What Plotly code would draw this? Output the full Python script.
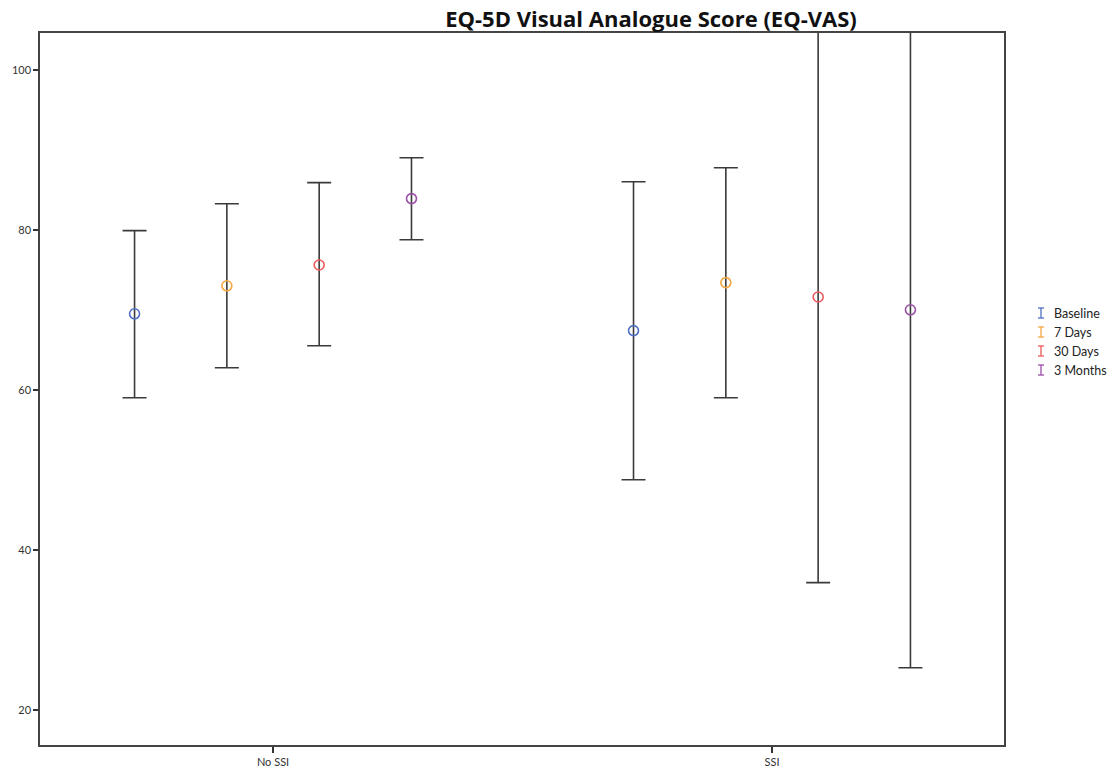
import plotly.graph_objects as go

groups = ["No SSI", "SSI"]
series = ["Baseline", "7 Days", "30 Days", "3 Months"]
colors = ["#4f6fc4", "#f5a742", "#f0575a", "#9a4ea6"]

mean_baseline = [69.5, 67.4]
mean_7days = [73.0, 73.4]
mean_30days = [75.6, 71.6]
mean_3months = [83.9, 70.0]

upper_baseline = [79.9, 86.0]
upper_7days = [83.25, 87.75]
upper_30days = [85.9, 107.3]
upper_3months = [89.0, 114.7]

lower_baseline = [59.0, 48.75]
lower_7days = [62.75, 59.0]
lower_30days = [65.5, 35.9]
lower_3months = [78.75, 25.25]

means = [mean_baseline, mean_7days, mean_30days, mean_3months]
uppers = [upper_baseline, upper_7days, upper_30days, upper_3months]
lowers = [lower_baseline, lower_7days, lower_30days, lower_3months]

offsets = [-0.2775, -0.0925, 0.0925, 0.2775]

W, H = 1119, 774
OFF = 8  # page body margin
L, R, T, B = 40 - OFF, 1004 - OFF, 33 - OFF, 745 - OFF

fig = go.Figure()
for i, s in enumerate(series):
    xs = [g + offsets[i] for g in range(len(groups))]
    m = means[i]
    up = [u - v for u, v in zip(uppers[i], m)]
    lo = [v - l for l, v in zip(lowers[i], m)]
    fig.add_trace(go.Scatter(
        x=xs, y=m, mode="markers", name=s,
        marker=dict(symbol="circle-open", size=10, color=colors[i], line=dict(width=1.6)),
        error_y=dict(type="data", symmetric=False, array=up, arrayminus=lo,
                     color="#3a3a3a", thickness=1.6, width=12),
        showlegend=False,
    ))

# legend drawn manually (I-beam icons)
shapes = []
annotations = []
def px(xp):
    return (xp - OFF - L) / (R - L)
def py(yp):
    return (B - (yp - OFF)) / (B - T)
for i, s in enumerate(series):
    yc = 313 + 19 * i
    xc = 1041
    for (x0, y0, x1, y1) in [(xc, yc - 5, xc, yc + 5), (xc - 3, yc - 5, xc + 3, yc - 5), (xc - 3, yc + 5, xc + 3, yc + 5)]:
        shapes.append(dict(type="line", xref="paper", yref="paper",
                           x0=px(x0), y0=py(y0), x1=px(x1), y1=py(y1),
                           line=dict(color=colors[i], width=1.3)))
    annotations.append(dict(xref="paper", yref="paper", x=px(1052), y=py(yc),
                            xanchor="left", yanchor="middle", showarrow=False,
                            text=s, font=dict(family="Lato", size=12.5, color="#222")))

fig.update_layout(
    width=W, height=H,
    margin=dict(l=L, r=W - R, t=T, b=H - B, pad=0),
    paper_bgcolor="white", plot_bgcolor="white",
    title=dict(text="<b>EQ-5D Visual Analogue Score (EQ-VAS)</b>",
               x=(651 - OFF) / W, xanchor="center", xref="container",
               y=1 - 11 / H, yanchor="middle",
               font=dict(family="Open Sans", size=22, color="#111")),
    shapes=shapes, annotations=annotations,
    showlegend=False,
)
fig.update_xaxes(range=[-0.467, 1.465], tickvals=[0, 1], ticktext=groups,
                 showgrid=False, zeroline=False, showline=True, mirror=True,
                 linecolor="#444", linewidth=1.5, ticks="outside", ticklen=6,
                 tickcolor="#333", tickwidth=1.5, automargin=False,
                 tickfont=dict(family="Lato", size=11, color="#333"))
fig.update_yaxes(range=[15.6, 104.6], tickvals=[20, 40, 60, 80, 100],
                 showgrid=False, zeroline=False, showline=True, mirror=True,
                 linecolor="#444", linewidth=1.5, ticks="outside", ticklen=5,
                 tickcolor="#333", tickwidth=1.5, automargin=False,
                 tickfont=dict(family="Lato", size=11, color="#333"))

fig.write_html("out.html")
